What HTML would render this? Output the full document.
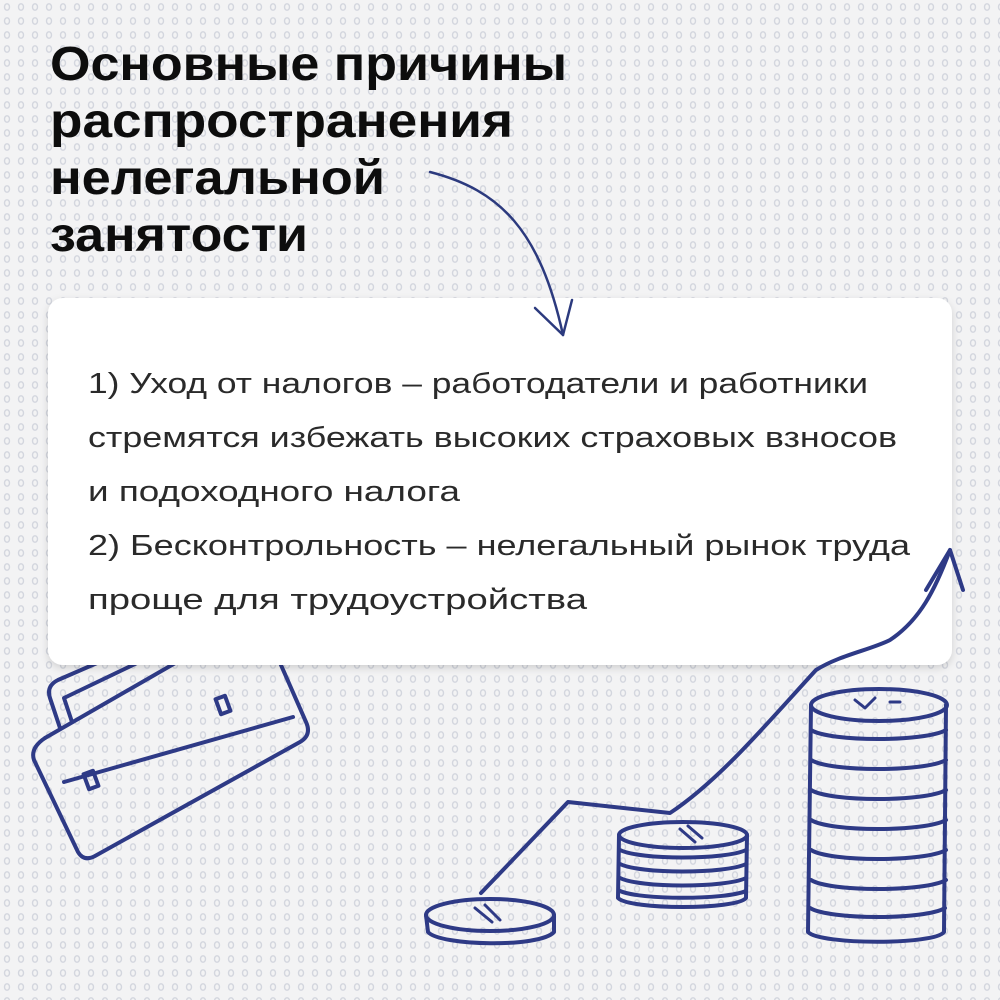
<!DOCTYPE html>
<html><head><meta charset="utf-8"><style>
html,body{margin:0;padding:0;width:1000px;height:1000px;overflow:hidden;background:#f2f2f3}
</style></head><body>
<svg width="1000" height="1000" viewBox="0 0 1000 1000" xmlns="http://www.w3.org/2000/svg">
<defs>
<pattern id="dots" width="14" height="14" patternUnits="userSpaceOnUse">
<ellipse cx="7" cy="7" rx="2.5" ry="3.2" fill="none" stroke="#d3d6de" stroke-width="1.4"/>
</pattern>
<filter id="sh" x="-5%" y="-5%" width="110%" height="115%"><feDropShadow dx="0" dy="3" stdDeviation="4" flood-color="#000" flood-opacity="0.15"/></filter>
</defs>
<rect width="1000" height="1000" fill="#f3f3f4"/>
<rect width="1000" height="1000" fill="url(#dots)"/>
<g font-family="Liberation Sans, sans-serif" font-weight="bold" font-size="48" fill="#0d0d0d">
<text x="50" y="80" textLength="517" lengthAdjust="spacingAndGlyphs">Основные причины</text>
<text x="50" y="137" textLength="463" lengthAdjust="spacingAndGlyphs">распространения</text>
<text x="50" y="194" textLength="335" lengthAdjust="spacingAndGlyphs">нелегальной</text>
<text x="50" y="251" textLength="258" lengthAdjust="spacingAndGlyphs">занятости</text>
</g>
<g fill="none" stroke="#2e3a86" stroke-width="4" stroke-linecap="round" stroke-linejoin="round">
<!-- briefcase (partly behind card) -->
<path d="M45 738 Q30 748 34 760 L78 852 Q84 862 95 856 L300 742 Q312 735 306 722 L270 640"/>
<path d="M45 738 L250 620"/>
<path d="M64 782 L293 717"/>
<path d="M60 728 L50 698 Q46 686 58 680 L150 640"/>
<path d="M72 722 L64 698 L160 652"/>
<rect x="86" y="772" width="10" height="16" transform="rotate(-20 91 780)"/>
<rect x="218" y="697" width="10" height="16" transform="rotate(-20 223 705)"/>
</g>
<rect x="48" y="298" width="904" height="367" rx="15" fill="#fff" filter="url(#sh)"/>
<g font-family="Liberation Sans, sans-serif" font-size="29" fill="#2a2a2a">
<text x="88" y="393" textLength="780" lengthAdjust="spacingAndGlyphs">1) Уход от налогов – работодатели и работники</text>
<text x="88" y="447" textLength="809" lengthAdjust="spacingAndGlyphs">стремятся избежать высоких страховых взносов</text>
<text x="88" y="501" textLength="372" lengthAdjust="spacingAndGlyphs">и подоходного налога</text>
<text x="88" y="555" textLength="822" lengthAdjust="spacingAndGlyphs">2) Бесконтрольность – нелегальный рынок труда</text>
<text x="88" y="609" textLength="499" lengthAdjust="spacingAndGlyphs">проще для трудоустройства</text>
</g>
<g fill="none" stroke="#2c3a7e" stroke-width="2.5" stroke-linecap="round" stroke-linejoin="round">
<path d="M430 172 C500 190 540 230 563 335"/>
<path d="M535 308 L563 335 L572 300"/>
</g>
<g fill="none" stroke="#2e3a86" stroke-width="4" stroke-linecap="round" stroke-linejoin="round">
<!-- arrow line -->
<path d="M481 893 L568 802 L670 813 C720 780 770 720 816 670 C840 655 870 650 890 640 C920 620 935 590 950 550"/>
<path d="M926 590 L950 550 L963 590"/>
<!-- small coin -->
<ellipse cx="490" cy="915" rx="64" ry="16"/>
<path d="M426 915 L428 932 C440 946 540 948 554 932 L554 915"/>
<path d="M475 908 L492 922 M485 905 L500 920" stroke-width="3"/>
<!-- medium stack -->
<ellipse cx="683" cy="835" rx="64" ry="13"/>
<path d="M619 835 L618 898 C630 910 736 910 746 898 L747 835"/>
<path d="M620 850 C640 860 725 860 746 850 M620 864 C640 874 725 874 746 864 M620 878 C640 888 725 888 746 878 M620 891 C640 900 725 900 746 891"/>
<path d="M680 829 L695 842 M688 826 L702 838" stroke-width="3"/>
<!-- tall stack -->
<ellipse cx="879" cy="705" rx="68" ry="16"/>
<path d="M811 705 L808 932 C820 945 935 945 944 932 L946 705"/>
<path d="M811 730 C830 742 925 742 946 730 M811 760 C830 772 925 772 946 760 M811 790 C830 802 925 802 946 790 M811 820 C830 832 925 832 946 820 M811 850 C830 862 925 862 946 850 M811 880 C830 892 925 892 946 880 M810 908 C830 920 925 920 945 908"/>
<path d="M855 700 L865 708 L875 698 M890 702 L900 702" stroke-width="3"/>
</g>
</svg>
</body></html>
